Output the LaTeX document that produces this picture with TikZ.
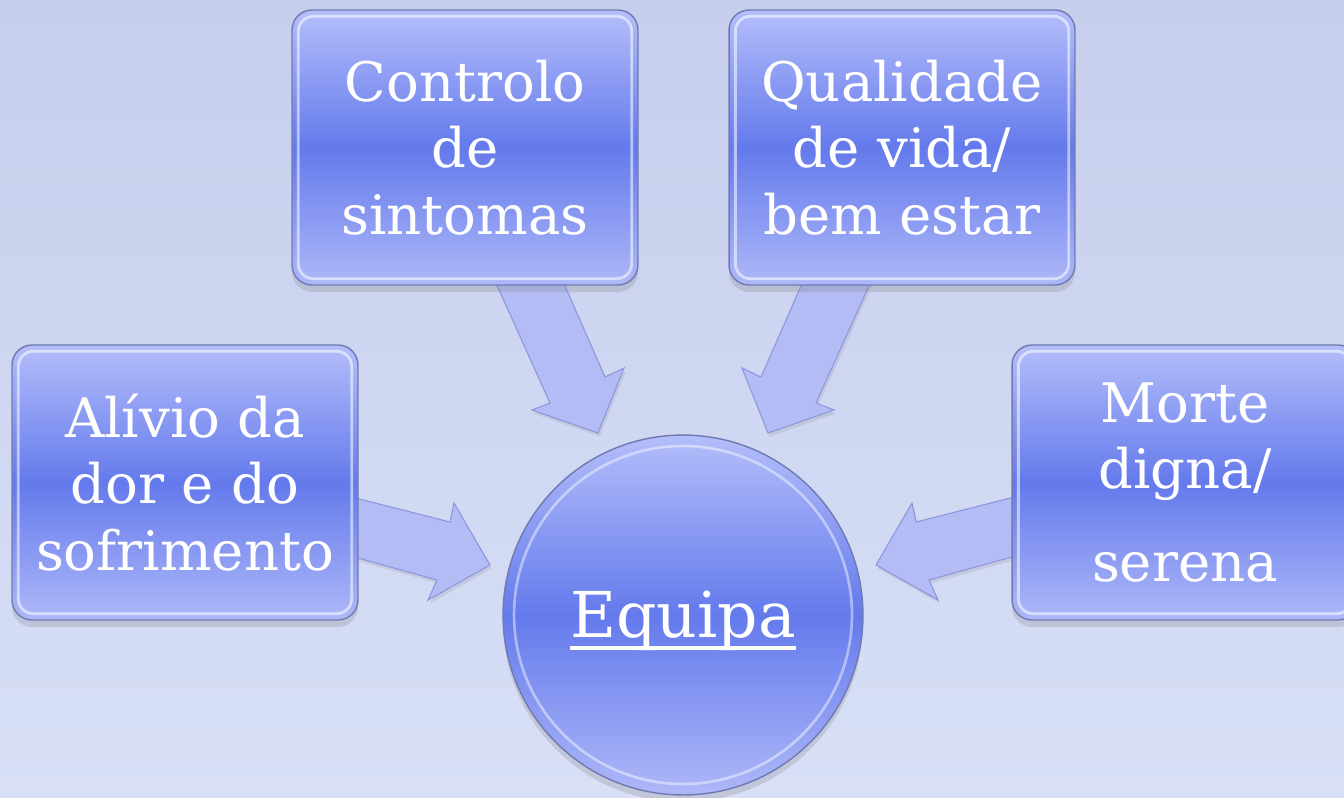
\documentclass[tikz,border=0pt]{standalone}
\usepackage{fontspec}
\setmainfont{DejaVu Serif}
\usetikzlibrary{shadows}
\definecolor{bgtop}{RGB}{198,206,236}
\definecolor{bgbot}{RGB}{216,223,247}
\definecolor{boxtop}{RGB}{180,190,250}
\definecolor{boxmid}{RGB}{100,122,236}
\definecolor{boxbot}{RGB}{174,184,248}
\definecolor{boxedge}{RGB}{112,122,178}
\definecolor{arrfill}{RGB}{180,188,246}
\definecolor{arredge}{RGB}{140,150,220}
\newcommand\myul[1]{\setbox0\hbox{#1}\rlap{\rule[-7pt]{\wd0}{2.4pt}}\box0}
\begin{document}
\begin{tikzpicture}[x=0.02cm,y=-0.02cm,
  stepbox/.style={rectangle, rounded corners=0.4cm, minimum width=6.92cm, minimum height=5.5cm,
    top color=boxtop, bottom color=boxbot, middle color=boxmid, draw=boxedge, line width=0.8pt,
    text=white, align=center, font=\fontsize{31}{38}\selectfont,
    drop shadow={shadow xshift=0pt, shadow yshift=-4pt, opacity=0.25}},
  boxhl/.style={draw=white, opacity=0.55, line width=1.6pt, rounded corners=0.3cm},
  hub/.style={circle, minimum size=7.2cm, inner sep=0pt,
    top color=boxtop, bottom color=boxbot, middle color=boxmid, draw=boxedge, line width=0.8pt,
    text=white, font=\fontsize{36}{44}\selectfont,
    drop shadow={shadow xshift=0pt, shadow yshift=-4pt, opacity=0.25}},
  blockarrow/.style={fill=arrfill, draw=arredge, line width=0.6pt, line join=miter,
    drop shadow={shadow xshift=1pt, shadow yshift=-2pt, opacity=0.18}}]
\useasboundingbox (0,0) rectangle (1344,797);
\clip (0,0) rectangle (1344,797);
\fill[top color=bgtop, bottom color=bgbot] (0,0) rectangle (1344,797);

% block arrows
\path[blockarrow] (490,270) -- (550,403) -- (532,410) -- (598,433) -- (624,368) -- (605,377) -- (558,270) -- cycle;
\path[blockarrow] (876,270) -- (816,403) -- (834,410) -- (768,433) -- (742,368) -- (761,377) -- (808,270) -- cycle;
\path[blockarrow] (340,494) -- (450,522) -- (454,503) -- (490,565) -- (428,600) -- (437,580) -- (340,553) -- cycle;
\path[blockarrow] (1026,494) -- (916,522) -- (912,503) -- (876,565) -- (938,600) -- (929,580) -- (1026,553) -- cycle;

% boxes
\node[stepbox] (ctl) at (465,147.5) {Controlo\\de\\sintomas};
\node[stepbox] (qv) at (902,147.5) {Qualidade\\de vida/\\bem estar};
\node[stepbox] (al) at (185,482.5) {Alívio da\\dor e do\\sofrimento};
\node[stepbox] (md) at (1185,482.5) {Morte\\digna/\\[15pt]serena};
\foreach \n in {ctl,qv,al,md}
  \draw[boxhl] ([shift={(7,7)}]\n.north west) rectangle ([shift={(-7,-7)}]\n.south east);

% hub
\node[hub] (eq) at (683,615) {\raisebox{-3.5pt}[\height][\depth]{\myul{Equipa}}};
\draw[white, opacity=0.45, line width=1.5pt] (eq.center) circle[radius=3.38cm];
\end{tikzpicture}
\end{document}
